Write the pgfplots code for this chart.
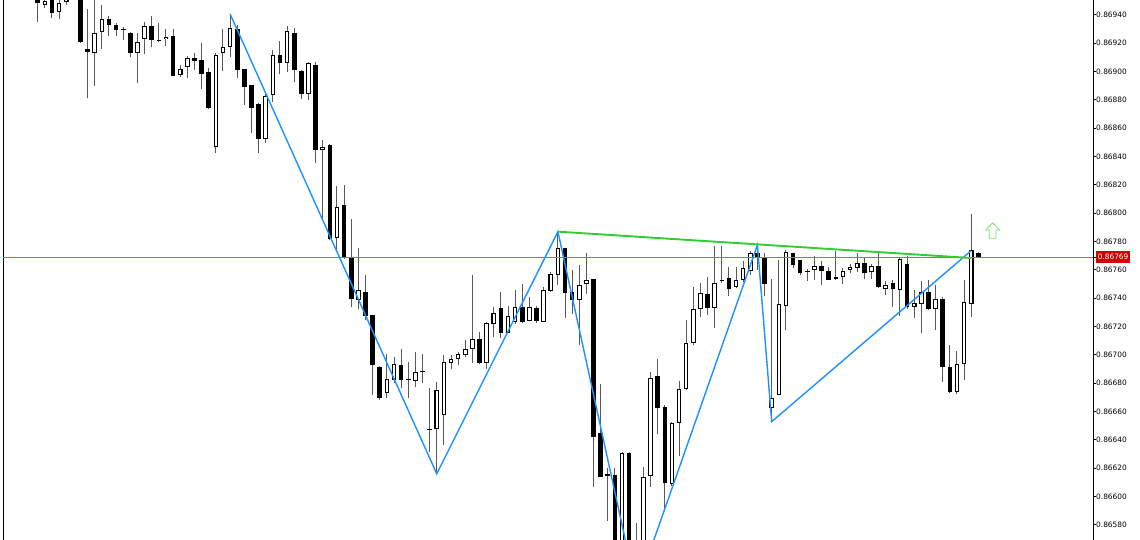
\documentclass[border=0pt]{standalone}
\usepackage{fontspec}
\usepackage{pgfplots}
\pgfplotsset{compat=1.18}
\usepackage{pgfplotstable}
\setmainfont{DejaVu Sans}
\newfontfamily\tickfont{DejaVu Sans}

\definecolor{zigzag}{RGB}{30,144,255}
\definecolor{trend}{RGB}{50,205,50}
\definecolor{bidlabel}{RGB}{210,0,0}
\definecolor{signal}{RGB}{120,225,90}
\newcommand\bidtag[1]{{\setlength{\fboxsep}{1.6pt}\colorbox{bidlabel}{\rule[-2pt]{0pt}{9pt}\textcolor{white}{#1}}}}

% bearish candles: bar index, open, high, low, close
\pgfplotstableread{
i O H L C
0 0.86952 0.86954 0.86935 0.86948
2 0.86953 0.86956 0.86938 0.86941
6 0.86961 0.86963 0.86920 0.86921
7 0.86916 0.86944 0.86881 0.86914
10 0.86937 0.86939 0.86925 0.86933
11 0.86933 0.86934 0.86925 0.86929
12 0.86930 0.86931 0.86922 0.869293
13 0.86927 0.86928 0.86910 0.86913
16 0.86932 0.86939 0.86917 0.86922
17 0.86922 0.86934 0.869205 0.869215
19 0.86925 0.86930 0.868965 0.86897
22 0.869092 0.869128 0.86901 0.869075
23 0.86908 0.869198 0.868873 0.868981
24 0.868993 0.869022 0.868735 0.868739
28 0.869297 0.869327 0.868951 0.86901
29 0.869015 0.869018 0.868763 0.868892
30 0.868904 0.868906 0.868567 0.868739
31 0.868768 0.868775 0.868426 0.868521
34 0.869116 0.869214 0.868981 0.869061
36 0.869273 0.869304 0.868927 0.86901
37 0.869005 0.869007 0.868803 0.868838
39 0.869045 0.869068 0.868356 0.868445
41 0.86848 0.868485 0.86781 0.867815
43 0.868057 0.868198 0.867678 0.867681
44 0.867681 0.867956 0.86734 0.867394
46 0.867445 0.867563 0.867245 0.867274
47 0.867281 0.867283 0.866716 0.866928
48 0.866916 0.86692 0.86668 0.866693
51 0.866928 0.867039 0.866763 0.866822
52 0.86683 0.866951 0.866693 0.866824
54 0.86688 0.867006 0.866804 0.866876
55 0.866474 0.866763 0.866316 0.86647
62 0.867109 0.867163 0.866935 0.866944
65 0.867328 0.867445 0.867116 0.867156
68 0.867339 0.867499 0.867222 0.867233
70 0.867328 0.867344 0.867222 0.86724
74 0.867751 0.867753 0.867257 0.867438
75 0.867445 0.867598 0.867288 0.867387
78 0.867533 0.867535 0.866069 0.866423
79 0.86645 0.866794 0.866135 0.866138
80 0.866159 0.866199 0.86583 0.866145
81 0.866152 0.866199 0.86555 0.8656
83 0.866309 0.866312 0.8654 0.86548
84 0.8656 0.865813 0.86534 0.86545
87 0.86685 0.866968 0.866441 0.866622
88 0.866629 0.866646 0.865917 0.866093
94 0.867427 0.867547 0.867281 0.867328
97 0.867544 0.867617 0.867415 0.867464
101 0.86772 0.867775 0.867598 0.867681
102 0.867681 0.86772 0.867415 0.867499
106 0.867716 0.867718 0.86761 0.867634
107 0.867669 0.86767 0.867563 0.867575
108 0.867589 0.867603 0.867523 0.867585
110 0.867627 0.867664 0.867493 0.867593
111 0.867593 0.867622 0.867525 0.867528
116 0.867646 0.867681 0.867533 0.867575
118 0.867629 0.867716 0.867474 0.867476
120 0.867509 0.867528 0.86734 0.867462
122 0.867638 0.867697 0.867321 0.867335
125 0.867445 0.867528 0.867316 0.867321
127 0.867392 0.86741 0.86681 0.866912
128 0.866914 0.867069 0.866733 0.866736
132 0.86772 0.867725 0.86769 0.86769
}\bear

% bullish candles
\pgfplotstableread{
i O H L C
1 0.86947 0.86952 0.86945 0.8695
3 0.86942 0.86951 0.86937 0.86948
4 0.86949 0.86952 0.86947 0.86951
5 0.86952 0.86966 0.86951 0.86962
8 0.86913 0.86951 0.8689 0.86927
9 0.86928 0.86947 0.86916 0.86937
14 0.86913 0.86927 0.86892 0.86921
15 0.86923 0.86935 0.86912 0.86932
18 0.86923 0.8693 0.86918 0.869245
20 0.868975 0.869045 0.86896 0.86902
21 0.869033 0.869109 0.868951 0.869092
25 0.868464 0.869132 0.868426 0.869116
26 0.869128 0.869297 0.869005 0.869174
27 0.869174 0.869405 0.869099 0.869304
32 0.868521 0.86884 0.868497 0.868826
33 0.868833 0.869151 0.868786 0.869116
35 0.869061 0.86932 0.868998 0.869285
38 0.86884 0.869068 0.868798 0.869057
40 0.868445 0.868516 0.867951 0.868468
42 0.867822 0.868191 0.867739 0.868045
45 0.867387 0.867756 0.867321 0.867457
49 0.866728 0.867006 0.866693 0.866827
50 0.866822 0.866986 0.866799 0.866935
53 0.866817 0.867022 0.866775 0.866881
56 0.866474 0.86681 0.86616 0.866751
57 0.866575 0.866998 0.866363 0.866951
58 0.866944 0.866998 0.866898 0.866968
59 0.866968 0.867022 0.866928 0.867006
60 0.866998 0.867104 0.866982 0.867039
61 0.867039 0.867563 0.86694 0.867109
63 0.866944 0.867233 0.866898 0.867226
64 0.867217 0.867339 0.867123 0.867297
66 0.867156 0.867344 0.867153 0.867274
67 0.867233 0.867457 0.867217 0.867339
69 0.86724 0.86741 0.867238 0.867339
71 0.867233 0.867481 0.86723 0.867457
72 0.867452 0.867586 0.867445 0.86757
73 0.867563 0.867869 0.867493 0.867751
76 0.867387 0.867634 0.867069 0.867493
77 0.867499 0.867716 0.867429 0.867528
82 0.86562 0.866312 0.86558 0.866309
85 0.86548 0.866206 0.86544 0.86614
86 0.866148 0.866881 0.866069 0.866834
89 0.866088 0.866526 0.866074 0.866521
90 0.866521 0.866817 0.866289 0.86676
91 0.866756 0.867245 0.86675 0.867081
92 0.867081 0.867476 0.867069 0.867321
93 0.867321 0.867504 0.867269 0.867438
95 0.867328 0.867768 0.867187 0.867509
96 0.867519 0.867768 0.867509 0.867523
98 0.867476 0.867617 0.86747 0.867528
99 0.867528 0.867662 0.867516 0.86761
100 0.867593 0.867735 0.867563 0.867716
103 0.866622 0.867533 0.866528 0.866693
104 0.866716 0.867669 0.866713 0.867358
105 0.867344 0.867739 0.867175 0.867727
109 0.867598 0.867697 0.867528 0.867627
112 0.867533 0.867732 0.86753 0.867547
113 0.867547 0.86761 0.867499 0.867593
114 0.867598 0.867641 0.867575 0.867617
115 0.867615 0.867716 0.867586 0.867646
117 0.867582 0.867638 0.867533 0.867629
119 0.867462 0.867521 0.867422 0.867493
121 0.867457 0.867692 0.867274 0.867676
123 0.867339 0.867457 0.867257 0.867363
124 0.867358 0.867523 0.867156 0.867445
126 0.867321 0.867493 0.867175 0.867392
129 0.866736 0.86703 0.866723 0.866935
130 0.866935 0.867528 0.866822 0.867375
131 0.867358 0.867994 0.867269 0.867739
}\bull

% the current bid, one value per end of the line
\pgfplotstableread{
i P
-4.87 0.86769
148.09 0.86769
}\bid

\pgfdeclareplotmark{buyarrow}{%
  \pgfpathmoveto{\pgfpoint{0pt}{7.8pt}}%
  \pgfpathlineto{\pgfpoint{6.8pt}{0.6pt}}%
  \pgfpathlineto{\pgfpoint{3.3pt}{0.6pt}}%
  \pgfpathlineto{\pgfpoint{3.3pt}{-7.8pt}}%
  \pgfpathlineto{\pgfpoint{-3.3pt}{-7.8pt}}%
  \pgfpathlineto{\pgfpoint{-3.3pt}{0.6pt}}%
  \pgfpathlineto{\pgfpoint{-6.8pt}{0.6pt}}%
  \pgfpathclose
  \pgfusepathqfillstroke
}

\pgfplotsset{
  bar part/.style 2 args={only marks, mark size=0pt,
    mark options={draw=none, fill=none}, forget plot,
    error bars/.cd, y dir=plus, y explicit, error mark=none,
    error bar style={line width=#1, #2}},
}

\begin{document}
\begin{tikzpicture}
\path[use as bounding box] (0,0) rectangle (1140pt,540pt);
\begin{axis}[
    at={(3pt,-13.2pt)}, anchor=south west,
    scale only axis,
    width=1090pt, height=566.85pt,
    xmin=-4.87, xmax=148.09,
    ymin=0.8656, ymax=0.8696,
    hide x axis,
    axis line style={black, line width=0.8pt},
    ytick={0.8658,0.866,0.8662,0.8664,0.8666,0.8668,0.867,0.8672,0.8674,0.8676,0.86769,0.8678,0.868,0.8682,0.8684,0.8686,0.8688,0.869,0.8692,0.8694},
    yticklabels={0.86580,0.86600,0.86620,0.86640,0.86660,0.86680,0.86700,0.86720,0.86740,0.86760,\bidtag{0.86769},0.86780,0.86800,0.86820,0.86840,0.86860,0.86880,0.86900,0.86920,0.86940},
    ytick pos=right, yticklabel pos=right,
    tick align=outside, major tick length=3pt,
    major tick style={black, line width=0.8pt},
    scaled y ticks=false,
    yticklabel style={anchor=west, inner sep=0pt,
      font=\tickfont\fontsize{7.4}{8}\selectfont},
  ]
  % wicks
  \addplot[bar part={1pt}{black!65}]
    table[x=i, y=L, y error plus expr=\thisrow{H}-\thisrow{L}] {\bear};
  \addplot[bar part={1pt}{black!65}]
    table[x=i, y=L, y error plus expr=\thisrow{H}-\thisrow{L}] {\bull};

  % bodies
  \addplot[bar part={4.6pt}{black}]
    table[x=i, y=C, y error plus expr={max(\thisrow{O}-\thisrow{C},0.00000706)}] {\bear};
  \addplot[bar part={4.6pt}{black}]
    table[x=i, y=O, y error plus expr={max(\thisrow{C}-\thisrow{O},0.00000706)}] {\bull};
  \addplot[bar part={2.5pt}{white}]
    table[x=i, y expr=\thisrow{O}+0.00000706, y error plus expr={max(\thisrow{C}-\thisrow{O}-0.0000141,0)}] {\bull};

  % bid line
  \addplot[color=red!70!white, line width=0.8pt, mark=none] table[x=i, y=P] {\bid};

  % zigzag
  \addplot[zigzag, line width=1.4pt] coordinates {
    (27,0.869405) (56,0.86616) (73,0.867869) (84,0.86534)
    (101,0.867775) (103,0.866528) (131,0.867735)};
  % trend line over the highs
  \addplot[trend, line width=1.9pt] coordinates {(73,0.867869) (131,0.867683)};
  % buy signal
  \addplot[only marks, mark=buyarrow, mark options={draw=signal, fill=white, line width=0.8pt}]
    coordinates {(134,0.867877)};
\end{axis}
\end{tikzpicture}
\end{document}
